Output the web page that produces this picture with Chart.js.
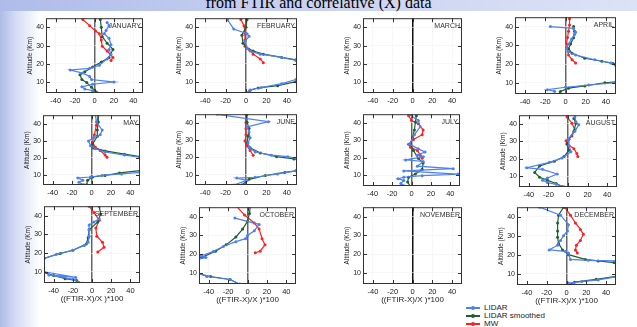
<!DOCTYPE html>
<html>
<head>
<meta charset="utf-8">
<script src="https://cdn.jsdelivr.net/npm/chart.js@4"></script>
<style>
body { margin:0; width:637px; height:327px; overflow:hidden; position:relative;
  background: linear-gradient(to right, #aebbe8 0px, #d5dcf4 16px, #ffffff 40px);
  font-family: 'Liberation Sans', Arial, sans-serif; }
#band { position:absolute; left:0; top:0; width:637px; height:11px;
  background: linear-gradient(to right, #afbce9, #c7d0f0 45%, #dde3f6); }
#title { position:absolute; left:0; top:-5px; width:637px; text-align:center;
  font: 16px/16px 'Liberation Serif', 'Times New Roman', serif; color:#000; }
.panel { position:absolute; }
#legend { position:absolute; left:466px; top:304px; font-size:8px; line-height:8px; color:#222; }
#legend .sw { display:inline-block; position:relative; width:14px; height:1.5px; margin-right:4px; vertical-align:middle; }
#legend .sw::after { content:''; position:absolute; left:5px; top:-1.5px; width:4px; height:4px; border-radius:50%; background:inherit; }
</style>
</head>
<body>
<div id="band"></div>
<div id="title">from FTIR and correlative (X) data</div>
<div id="legend">
  <div><span class="sw" style="background:#4d7ff5"></span>LIDAR</div>
  <div><span class="sw" style="background:#1f5f30"></span>LIDAR smoothed</div>
  <div><span class="sw" style="background:#ff2020"></span>MW</div>
</div>
<script>
// month names and axis ticks
const months = ['JANUARY', 'FEBRUARY', 'MARCH', 'APRIL', 'MAY', 'JUNE',
  'JULY', 'AUGUST', 'SEPTEMBER', 'OCTOBER', 'NOVEMBER', 'DECEMBER'];
const xTicks = [-40, -20, 0, 20, 40];
const altTicks = [10, 20, 30, 40];

// profiles: [ (FTIR-X)/X *100 , altitude km ]
const janLidar = [[13,42.6],[15,41],[12,38.3],[10,36.5],[15,34],[17,30.5],[15,27.9],[17,25.3],[13,22.7],[5,19.2],[-5,17.5],[-25,16.6],[-12,14.9],[-5,13.1],[-3,11.4],[20,10],[-2,8.8],[-13,7.4],[-10,6.2],[-2,5.3],[2,4]];
const janSmooth = [[6,44.3],[7,40],[8,34.8],[13,31.3],[19,27.9],[15,23.5],[7,21],[-2,18.3],[-10,15.7],[-15,14],[-13,11.4],[-8,9.7],[-3,7.1],[2,4.5]];
const janMW = [[-12,44.3],[-5,40.9],[1,38],[5,36.5],[7,33],[8,29.6],[13,27],[19,23.5],[17,21.8]];

const febLidar = [[-18,44],[-12,39.1],[1,36.5],[3,35.1],[-1,32.2],[1,28.7],[4,27],[14,25.3],[35,23.5],[49,21.8],[90,16],[49,11.4],[35,9.1],[15,7],[4,5.7],[1,4]];
const febSmooth = [[1,44.3],[0,40],[-4,35.7],[-3,31.3],[1,28.7],[7,27],[17,25.3],[35,23.5],[49,22.2],[90,16],[49,10.2],[31,8],[12,6.8],[4,5.5],[2,4]];
const febMW = [[-5,44.3],[-2,40.9],[-1,36.5],[-1,33],[-1,29.6],[3,27.9],[7,25.3],[14,22.7],[17,20.6]];

const aprLidar = [[-15,40],[8,39],[10,37],[9,35.8],[6,33.3],[3,30.7],[1,28.2],[3,26.5],[10,24.8],[29,22.3],[45,20.6],[50,18.9],[90,14],[50,10],[23,8.8],[0,7.6],[-18,6.3],[-11,5.5],[-10,3.3]];
const aprSmooth = [[8,40],[9,37.5],[8,34],[5,30.7],[3,28.2],[6.5,25.7],[19,23.1],[36,21.5],[47,20.3],[90,15],[50,10.5],[39,10],[19,8.3],[3,7.1],[-5,5.4],[-8,3.3]];
const aprMW = [[4,44.2],[4,40.8],[3,37.5],[2,34.1],[1,30.7],[2,28.2],[3,24.8],[6.5,22.3],[10,20.6]];

const mayLidar = [[4,45.5],[5,41],[11,36.3],[9,33.5],[2,31.7],[-3,29.9],[-1,27.1],[4,25.3],[14,23.4],[34,21.6],[50,20.3],[90,16],[50,11.4],[31,10.5],[11,9.6],[-1,8.7],[-14,8.1],[-9,6.8],[-13,5.6],[-8,4.1]];
const maySmooth = [[7,45.5],[7,41],[6,36.3],[6,32.6],[1,28],[2,25.8],[14,24],[34,22.1],[50,20.7],[90,16],[50,12.4],[29,11.1],[14,9.6],[1,8.7],[-4,6.8],[-5,4.1]];
const mayMW = [[7,45.5],[5,39.1],[3,33.5],[1,29],[4,26.2],[9,24.3],[14,21.6],[16,20.3]];

const junLidar = [[-28,44.9],[22,40.7],[1,37.6],[3,34.9],[4,31.3],[2,28.5],[3,25.8],[9,23.1],[25,21.3],[41,20.4],[49,19.5],[90,16],[49,12.2],[31,10.4],[9,8.5],[-9,8],[1,6.7],[-12,4]];
const junSmooth = [[1,44.9],[1,40.4],[3,36.7],[2,32.2],[1,28.5],[4,25.5],[14,22.5],[30,20.4],[47,19.1],[90,15],[49,12.2],[38,11.3],[19,9.5],[3,7.3],[-4,4]];
const junMW = [[0,44.9],[0,40.4],[0,36.7],[0,33.1],[-1,29.5],[1,26.7],[4,24],[7,21.3]];

const julLidar = [[-3,45],[7,41.4],[9,37.8],[3,33.3],[-2,27.9],[7,25.2],[14,23.4],[6,21.6],[12,20.7],[-6,18.9],[12,18],[6,15.3],[43,13.9],[-8,12.6],[48,10.8],[11,9.9],[-8,9],[-14,8.1],[-8,7.2],[-11,5.4],[-8,4.1]];
const julSmooth = [[5,44.1],[4,40.5],[3,36],[1,31.5],[-1,27.9],[2,24.3],[7,19.8],[12,17.1],[11,13.5],[4,10.8],[-3,9],[-4,6.3],[-1,3.6]];
const julMW = [[-3,44.1],[0,41.4],[7,39.6],[12,36],[11,33.3],[2,30.6],[-3,27.9],[-1,26.1],[6,24.3],[9,21.6],[11,19.8]];

const augLidar = [[7,44],[8,41.3],[11,39.5],[7,35.8],[0,31.3],[1,27.7],[3,24.1],[-6,20.5],[-19,18.1],[-42,15],[-26,14.1],[-11,11.4],[-21,9.1],[-26,7.8],[-21,6.5],[-12,5.5],[-4,4.2]];
const augSmooth = [[6,43.1],[8,40.4],[6,35.8],[1,31.3],[-1,28.6],[1,25],[-4,21.4],[-14,18.7],[-29,16],[-34,12.3],[-29,9.6],[-21,7.8],[-12,6],[-6,4.2]];
const augMW = [[-1,44],[4,40.4],[7,36.7],[4,33.1],[-2,30.4],[-1,28.6],[6,25.9],[9,23.2],[10,21.4]];

const sepLidar = [[7.5,38.3],[2,36.6],[-3,35],[-3,32.4],[-3,29],[-4,25.7],[-8,24],[-20,21.5],[-37,19.3],[-50,17],[-90,13],[-50,10],[-17,7],[-45,8.3],[-20,6],[-10,3.8]];
const sepSmooth = [[7.5,45],[9,40.8],[6,36.6],[-3,32.4],[-4,28.2],[-6,24.8],[-20,21.5],[-33,19.8],[-50,17.2],[-90,13],[-50,9.6],[-40,8],[-28,6.3],[-16,5.4],[-11,3.7]];
const sepMW = [[-3,45],[2,41.7],[7.5,37.5],[4,33.3],[5,29],[11,25.7],[12.5,23.1],[6,20.6]];

const octLidar = [[-13,39.2],[12,35.8],[7,32.4],[0,29.9],[-2,28.2],[-12,26.6],[-25,24],[-35,21.5],[-48,19],[-43,18.2],[-60,16],[-90,13],[-55,10.6],[-42,8],[-18,6.4],[-8,3.9]];
const octSmooth = [[3,45.9],[2,41.7],[0,37.5],[-5,33.3],[-12,29.1],[-22,24.9],[-33,21.5],[-47,18.2],[-90,13],[-55,10],[-38,8],[-18,6.4],[-8,3.9]];
const octMW = [[-12,45.9],[-3,40.8],[7,36.6],[12,33.3],[15,28.2],[18,24.9],[13,21.5],[8,20.7]];

const decLidar = [[-27,45],[-6,40.8],[2,35.8],[1,32.5],[-3,30],[-6,27.5],[-9,25],[-17.5,22.5],[-1,21.7],[2,20.8],[4,17.5],[22,17],[50,16.7],[90,12],[50,8.3],[32,6.7],[15.5,5.8],[2,5],[1,3.7]];
const decSmooth = [[-3,45],[-8,40.8],[-9,36.7],[-9,32.5],[-9,29.2],[-8,25.8],[-4,22.5],[2,20],[19,17.5],[32,16.7],[48,15.8],[90,12],[50,8.5],[30,7],[8,5.5],[2,4]];
const decMW = [[-2,45],[4,40.8],[9,36.7],[14,33.3],[17,30.8],[14,27.5],[10,25],[9,22.5],[11,20.8]];

// one entry per panel, in month order (march and november are empty)
const lidarSeries = [janLidar, febLidar, [], aprLidar, mayLidar, junLidar, julLidar, augLidar, sepLidar, octLidar, [], decLidar];
const smoothSeries = [janSmooth, febSmooth, [], aprSmooth, maySmooth, junSmooth, julSmooth, augSmooth, sepSmooth, octSmooth, [], decSmooth];
const mwSeries = [janMW, febMW, [], aprMW, mayMW, junMW, julMW, augMW, sepMW, octMW, [], decMW];

// plot area of each panel in page pixels (the panels are not exactly aligned)
const plotLeft = [46, 195, 363, 515, 43, 195, 363, 519, 44, 199, 363, 517];
const plotTop = [14, 14, 14, 13, 111, 110, 110, 111, 202, 203, 203, 203];
const plotWidth = [99, 104, 99, 103, 99, 104, 99, 100, 98, 99, 99, 101];
const plotHeight = [79, 79, 79, 81, 74, 75, 76, 76, 81, 81, 81, 82];

const BLUE = '#4d7ff5', GREEN = '#1f5f30', RED = '#ff2020';

// box around plot area + inward tick marks on all four sides
const framePlugin = {
    id: 'frame',
    afterDatasetsDraw(chart) {
        const { ctx, chartArea: a, scales: { x, y } } = chart;
        ctx.save();
        ctx.strokeStyle = '#333';
        ctx.lineWidth = 1;
        ctx.strokeRect(a.left + 0.5, a.top + 0.5, a.right - a.left - 1, a.bottom - a.top - 1);
        ctx.beginPath();
        xTicks.forEach(v => {
            const px = Math.round(x.getPixelForValue(v)) + 0.5;
            ctx.moveTo(px, a.top); ctx.lineTo(px, a.top + 4);
            ctx.moveTo(px, a.bottom); ctx.lineTo(px, a.bottom - 4);
        });
        altTicks.forEach(v => {
            const py = Math.round(y.getPixelForValue(v)) + 0.5;
            ctx.moveTo(a.left, py); ctx.lineTo(a.left + 4, py);
            ctx.moveTo(a.right, py); ctx.lineTo(a.right - 4, py);
        });
        ctx.stroke();
        // month name in the top right corner
        ctx.font = '7px "Liberation Sans", Arial, sans-serif';
        ctx.fillStyle = '#333';
        ctx.textAlign = 'right';
        ctx.textBaseline = 'top';
        ctx.fillText(chart.options.plugins.frame.label, a.right - 2, a.top + 4);
        ctx.restore();
    }
};

function series(points, color) {
    return {
        data: points.map(p => ({ x: p[0], y: p[1] })),
        showLine: true,
        borderColor: color,
        backgroundColor: color,
        borderWidth: 1.2,
        pointRadius: 1.5,
        pointBorderWidth: 0,
        tension: 0
    };
}

function makePanel(i) {
    const row = Math.floor(i / 4);
    const axisW = 20, axisH = row === 2 ? 21 : 12;
    const empty = lidarSeries[i].length === 0;

    const box = document.createElement('div');
    box.className = 'panel';
    box.style.left = (plotLeft[i] - axisW) + 'px';
    box.style.top = (plotTop[i] - 2) + 'px';
    box.style.width = (plotWidth[i] + axisW + 2) + 'px';
    box.style.height = (plotHeight[i] + 2 + axisH) + 'px';
    const canvas = document.createElement('canvas');
    box.appendChild(canvas);
    document.body.appendChild(box);

    new Chart(canvas, {
        type: 'scatter',
        data: {
            datasets: [
                series(lidarSeries[i], BLUE),
                series(smoothSeries[i], GREEN),
                series(mwSeries[i], RED)
            ]
        },
        options: {
            responsive: true,
            maintainAspectRatio: false,
            animation: false,
            layout: { padding: { top: 2, right: 2 } },
            plugins: {
                legend: { display: false },
                tooltip: { enabled: false },
                frame: { label: months[i] }
            },
            scales: {
                x: {
                    type: 'linear', min: -50, max: 50,
                    afterBuildTicks: s => { s.ticks = xTicks.map(v => ({ value: v })); },
                    afterFit: s => { s.height = axisH; },
                    border: { display: false },
                    grid: {
                        drawTicks: false,
                        color: c => c.tick && c.tick.value === 0 ? (empty ? '#111' : '#666') : '#f1f1f1',
                        lineWidth: c => c.tick && c.tick.value === 0 ? 1.5 : 0.6
                    },
                    ticks: { padding: 3, color: '#222', font: { size: 7.5 } },
                    title: {
                        display: row === 2,
                        text: '((FTIR-X)/X )*100',
                        color: '#222',
                        font: { size: 8 },
                        padding: 0
                    }
                },
                y: {
                    type: 'linear', min: 4, max: 45,
                    afterBuildTicks: s => { s.ticks = altTicks.map(v => ({ value: v })); },
                    afterFit: s => { s.width = axisW; },
                    border: { display: false },
                    grid: { drawTicks: false, color: '#f1f1f1', lineWidth: 0.6 },
                    ticks: { padding: 2, color: '#222', font: { size: 7 } },
                    title: {
                        display: true,
                        text: 'Altitude (Km)',
                        color: '#222',
                        font: { size: 6.5 },
                        padding: 0
                    }
                }
            }
        },
        plugins: [framePlugin]
    });
}

for (let i = 0; i < 12; i++) makePanel(i);
</script>
</body>
</html>
